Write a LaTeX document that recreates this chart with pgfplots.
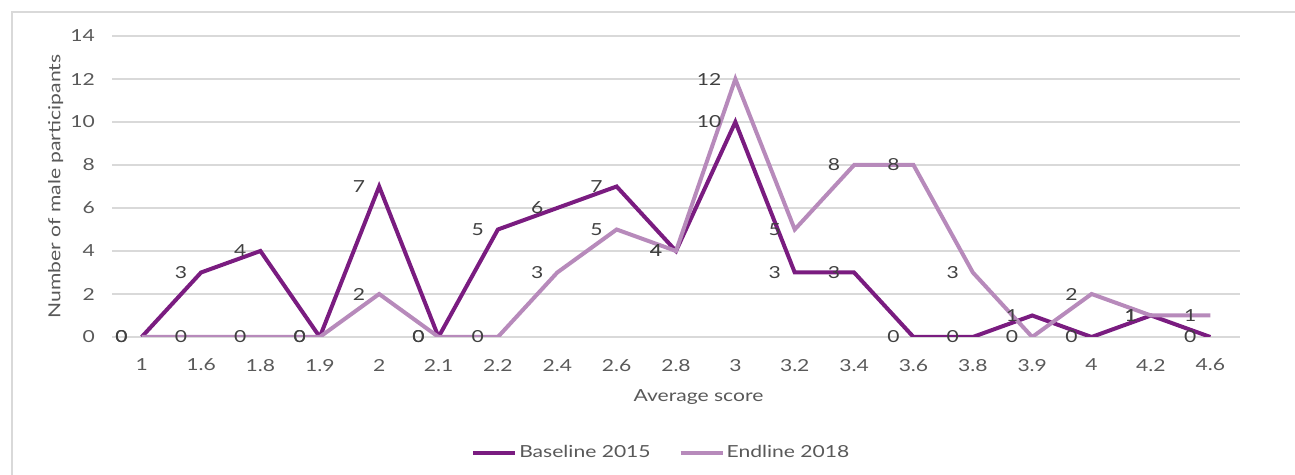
\documentclass[border=0pt]{standalone}
\usepackage{pgfplots}
\pgfplotsset{compat=1.18}
\usepackage{fontspec}
\setmainfont{Lato}[FakeStretch=1.27]

\definecolor{basec}{RGB}{122,28,128}
\definecolor{endc}{RGB}{183,138,187}
\definecolor{txt}{RGB}{89,89,89}
\definecolor{lab}{RGB}{64,64,64}
\definecolor{gridc}{RGB}{217,217,217}

% idx base end
\pgfplotstableread{
idx base end
0  0  0
1  3  0
2  4  0
3  0  0
4  7  2
5  0  0
6  5  0
7  6  3
8  7  5
9  4  4
10 10 12
11 3  5
12 3  8
13 0  8
14 0  3
15 1  0
16 0  2
17 1  1
18 0  1
}\scores

\begin{document}
\begin{tikzpicture}[x=1pt,y=1pt]
\useasboundingbox (0,0) rectangle (647.5,237.5);
\draw[gridc, line width=0.6pt] (6,-20) -- (6,231.5) -- (700,231.5);
\begin{axis}[
    at={(56pt,69pt)}, anchor=south west,
    scale only axis, width=564pt, height=150.5pt,
    xmin=-0.5, xmax=18.5, ymin=0, ymax=14,
    ytick={0,2,...,14},
    xtick=data,
    xticklabels={1,1.6,1.8,1.9,2,2.1,2.2,2.4,2.6,2.8,3,3.2,3.4,3.6,3.8,3.9,4,4.2,4.6},
    axis line style={draw=none}, major tick length=0pt,
    ymajorgrids, grid style={draw=gridc, line width=0.6pt},
    tick label style={font=\fontsize{8.3}{10}\selectfont, text=txt},
    /pgf/number format/assume math mode=true,
    xticklabel style={yshift=-7.5pt},
    yticklabel style={xshift=-5pt},
    xlabel={Average score},
    ylabel={Number of male participants},
    label style={font=\fontsize{8.3}{10}\selectfont, text=txt},
    xlabel style={at={(axis description cs:0.52,-0.2)}, anchor=center},
    ylabel style={at={(axis description cs:-0.05,0.5)}, anchor=center},
    nodes near coords,
    every node near coord/.append style={anchor=east, xshift=-6pt, inner sep=0pt,
        font=\fontsize{8.3}{10}\selectfont, text=lab},
    legend style={at={(axis description cs:0.487,-0.385)}, anchor=center, draw=none,
        font=\fontsize{8.3}{10}\selectfont, text=txt,
        nodes={inner xsep=1pt},
        /tikz/every even column/.append style={column sep=13pt}},
    legend columns=2,
    legend image code/.code={\draw[#1, line width=2pt] (0pt,0pt) -- (21pt,0pt);},
]
\addplot[basec, line width=2pt, mark=none] table[x=idx, y=base] {\scores};
\addplot[endc, line width=2pt, mark=none] table[x=idx, y=end] {\scores};
\legend{Baseline 2015, Endline 2018}
\end{axis}
\end{tikzpicture}
\end{document}
